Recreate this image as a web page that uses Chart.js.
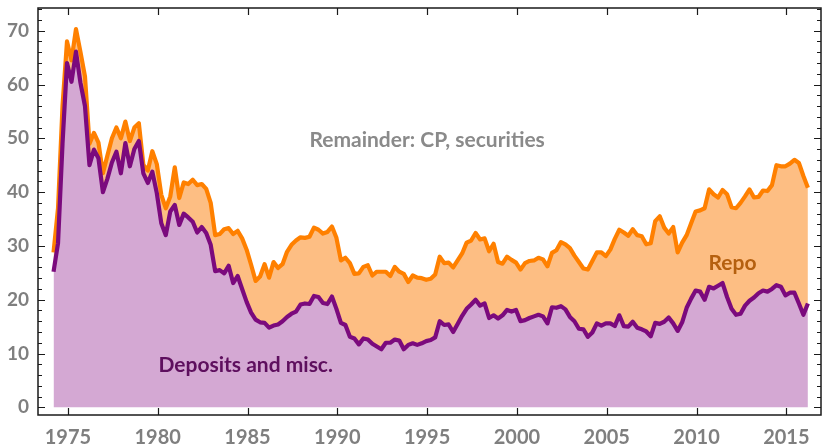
<!DOCTYPE html>
<html><head><meta charset="utf-8">
<script src="https://cdn.jsdelivr.net/npm/chart.js@4/dist/chart.umd.min.js"></script>
<style>html,body{margin:0;padding:0;background:#fff}#wrap{width:822px;height:446px}</style>
</head><body><div id="wrap"><canvas id="c" width="822" height="446"></canvas></div>
<script>
// x position (in years) of the first quarterly observation; one value per quarter
const firstQuarter = 1974.2;
const quarterStep = 0.25;

// Deposits and misc. (purple line, bottom layer)
const deposits = [25.2,30.5,49,64.0,60.5,66.1,60.3,56.0,45.0,47.9,
46.3,40.0,42.5,45.5,47.5,43.5,49.1,44.8,48.0,49.5,
43.5,41.7,43.8,39.8,34.2,32.0,36.4,37.6,33.9,36.0,
35.3,34.5,32.5,33.5,32.4,30.2,25.3,25.5,24.9,26.3,
23.1,24.4,22.0,19.6,17.6,16.3,15.8,15.7,14.8,15.2,
15.4,16.0,16.8,17.4,17.8,19.1,19.3,19.2,20.7,20.5,
19.4,19.2,20.6,18.3,15.7,15.3,13.1,12.8,11.7,12.8,
12.6,11.8,11.3,10.8,12.0,12.0,12.6,12.4,10.8,11.6,
11.9,11.6,11.9,12.3,12.5,13.0,16.0,15.3,15.4,14.0,
15.5,17.0,18.3,19.1,20.0,18.9,19.3,16.6,17.1,16.5,
17.1,18.1,17.8,18.1,16.0,16.2,16.6,16.9,17.2,16.9,
15.6,18.6,18.5,18.8,18.2,16.8,16.0,14.6,14.5,13.1,
13.9,15.6,15.2,15.6,15.6,15.1,17.1,15.1,15.0,15.9,
14.8,14.5,14.1,13.2,15.7,15.5,15.9,16.7,15.6,14.2,
15.8,18.5,20.2,21.7,21.5,20.0,22.4,22.1,22.6,23.1,
20.5,18.3,17.2,17.4,18.9,19.8,20.4,21.2,21.7,21.5,
22.0,22.7,22.4,20.8,21.3,21.3,19.3,17.2,19.3];

// Deposits + repo (orange line, top of the repo band)
const repoTop = [28.8,37.0,56,68.0,64.5,70.3,66.0,61.5,49.0,51.0,
49.2,43.5,46.8,50.0,52.0,50.0,53.1,49.5,52.0,52.8,
45.1,44.0,47.6,45.2,39.5,37.0,39.2,44.6,38.9,41.8,
41.5,42.3,41.3,41.5,40.6,38.0,32.0,32.2,33.1,33.3,
32.2,32.8,31.4,29.3,26.5,23.5,24.3,26.6,24.1,27.0,
25.9,26.6,28.9,30.2,31.0,31.6,31.5,31.7,33.4,33.0,
32.3,32.6,33.6,31.5,27.3,27.8,26.8,24.8,24.9,26.1,
26.4,24.5,25.2,25.2,25.2,24.4,26.1,25.2,24.8,23.3,
24.5,24.1,24.0,23.7,23.9,24.7,28.0,26.8,26.9,26.0,
27.3,28.6,30.6,31.0,32.4,31.2,31.4,29.0,30.4,27.0,
26.7,28.0,27.4,26.9,25.6,26.8,27.2,27.3,27.8,27.5,
26.2,28.7,29.2,30.7,30.3,29.6,28.2,27.0,25.8,25.6,
27.2,28.8,28.8,28.1,29.3,31.3,33.0,32.5,31.9,33.1,
32.0,31.8,30.3,30.5,34.6,35.5,33.4,32.3,33.5,28.8,
30.6,32.0,34.2,36.4,36.6,37.0,40.5,39.6,39.0,40.4,
39.6,37.2,37.0,38.0,39.2,40.5,39.0,39.1,40.3,40.2,
41.3,45.0,44.8,44.8,45.3,46.0,45.4,43.0,40.8];

const xTicks = [1975,1980,1985,1990,1995,2000,2005,2010,2015];
const yTicks = [0,10,20,30,40,50,60,70];
const labels = ['Remainder: CP, securities','Repo','Deposits and misc.'];

const quarters = deposits.map((_, i) => firstQuarter + i * quarterStep);
const toPts = arr => arr.map((v, i) => ({x: quarters[i], y: v}));

const notes = [
  {text: labels[0], x: 1995.0, y: 49.7, color: '#8a8a8a'},
  {text: labels[1], x: 2012.0, y: 26.8, color: '#b5600f'},
  {text: labels[2], x: 1984.9, y: 7.9, color: '#5e0f5e'}
];

const framePlugin = {
  id: 'framePlugin',
  afterDraw(chart) {
    const {ctx, chartArea: a, scales: {x, y}} = chart;
    ctx.save();
    ctx.strokeStyle = '#1a1a1a';
    ctx.lineWidth = 1.5;
    ctx.strokeRect(a.left, a.top, a.right - a.left, a.bottom - a.top);
    ctx.lineWidth = 1.2;
    ctx.beginPath();
    for (const v of xTicks) {
      const px = Math.round(x.getPixelForValue(v)) + 0.5;
      ctx.moveTo(px, a.bottom); ctx.lineTo(px, a.bottom - 7);
      ctx.moveTo(px, a.top); ctx.lineTo(px, a.top + 7);
    }
    for (let v = 0; v <= y.max; v += 2) {
      const len = v % 10 === 0 ? 7 : 4;
      const py = Math.round(y.getPixelForValue(v)) + 0.5;
      ctx.moveTo(a.left, py); ctx.lineTo(a.left + len, py);
      ctx.moveTo(a.right, py); ctx.lineTo(a.right - len, py);
    }
    ctx.stroke();
    ctx.font = 'bold 21px Lato, "Open Sans", sans-serif';
    ctx.textAlign = 'center';
    ctx.textBaseline = 'middle';
    for (const n of notes) {
      ctx.fillStyle = n.color;
      ctx.fillText(n.text, x.getPixelForValue(n.x), y.getPixelForValue(n.y));
    }
    ctx.restore();
  }
};

const noPad = s => { s.paddingTop = 0; s.paddingBottom = 0; s.paddingLeft = 0; s.paddingRight = 0; };

new Chart(document.getElementById('c'), {
  type: 'line',
  data: {
    datasets: [
      {label: 'Deposits and misc.', data: toPts(deposits), borderColor: '#7b0a7d', backgroundColor: '#d4a8d3',
       fill: 'origin', borderWidth: 4.2, pointRadius: 0, tension: 0, borderJoinStyle: 'round'},
      {label: 'Repo', data: toPts(repoTop), borderColor: '#ff8000', backgroundColor: '#fdbe83',
       fill: '-1', borderWidth: 4.2, pointRadius: 0, tension: 0, borderJoinStyle: 'round'}
    ]
  },
  options: {
    responsive: false, animation: false, devicePixelRatio: 1,
    layout: {padding: {top: 8, right: 1, left: 0, bottom: 0}},
    plugins: {legend: {display: false}, tooltip: {enabled: false}, filler: {drawTime: 'beforeDatasetsDraw'}},
    scales: {
      x: {
        type: 'linear', min: 1973.335, max: 2016.93,
        afterBuildTicks: s => { s.ticks = xTicks.map(v => ({value: v})); },
        afterFit: s => { s.height = 31; noPad(s); },
        grid: {display: false, drawTicks: false},
        border: {display: false},
        ticks: {padding: 11, color: '#7f7f7f', font: {family: 'Lato', weight: 'bold', size: 20}, maxRotation: 0,
                callback: v => String(v)}
      },
      y: {
        min: -1.43, max: 74.22,
        afterBuildTicks: s => { s.ticks = yTicks.map(v => ({value: v})); },
        afterFit: s => { s.width = 38; noPad(s); },
        grid: {display: false, drawTicks: false},
        border: {display: false},
        ticks: {padding: 9, color: '#7f7f7f', font: {family: 'Lato', weight: 'bold', size: 19}}
      }
    }
  },
  plugins: [framePlugin]
});
</script>
</body></html>
